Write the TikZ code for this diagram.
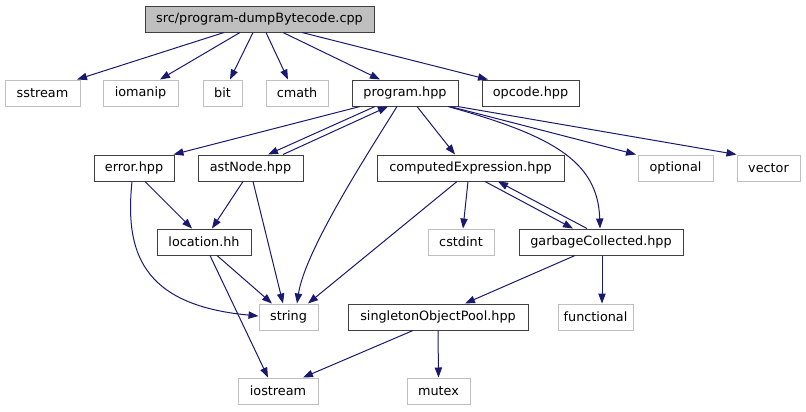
\documentclass[tikz,border=0pt]{standalone}
\usepackage{fontspec}
\setmainfont{DejaVu Sans}
\usetikzlibrary{arrows.meta,calc}
\definecolor{edgeblue}{HTML}{191970}
\definecolor{extgray}{HTML}{BFBFBF}
\definecolor{boxdark}{HTML}{404040}
\tikzset{
  base/.style={rectangle, inner sep=0pt, minimum height=19.5pt, font=\fontsize{9.6}{11}\selectfont, line width=0.75pt},
  intbox/.style={base, draw=boxdark, fill=white},
  extbox/.style={base, draw=extgray, fill=white},
  rootbox/.style={base, draw=boxdark, fill=extgray},
  edge/.style={draw=edgeblue, line width=0.75pt, -{Triangle[length=7.5pt,width=5.5pt]}},
}
\begin{document}
\begin{tikzpicture}[x=0.75pt,y=-0.75pt]
\useasboundingbox (0,0) rectangle (806,411);
% nodes
\node[rootbox, minimum width=171.75pt] (root) at (259.5,19) {src/program-dumpBytecode.cpp};
\node[extbox, minimum width=56.25pt] (sstream) at (42.5,93) {sstream};
\node[extbox, minimum width=56.25pt] (iomanip) at (140.5,93) {iomanip};
\node[extbox, minimum width=29.25pt] (bit) at (222.5,93) {bit};
\node[extbox, minimum width=46.5pt] (cmath) at (297,93) {cmath};
\node[intbox, minimum width=79.5pt] (program) at (405,93) {program.hpp};
\node[intbox, minimum width=72.75pt] (opcode) at (530.5,93) {opcode.hpp};
\node[intbox, minimum width=60pt] (error) at (134,168) {error.hpp};
\node[intbox, minimum width=78.75pt] (astNode) at (250.5,168) {astNode.hpp};
\node[intbox, minimum width=140.25pt] (ce) at (470.5,168) {computedExpression.hpp};
\node[extbox, minimum width=56.25pt] (optional) at (675.5,168) {optional};
\node[extbox, minimum width=47.25pt] (vector) at (768.5,168) {vector};
\node[intbox, minimum width=70.5pt] (location) at (204,242) {location.hh};
\node[extbox, minimum width=49.5pt] (cstdint) at (461,242) {cstdint};
\node[intbox, minimum width=123pt] (gc) at (601,242) {garbageCollected.hpp};
\node[extbox, minimum width=44.25pt] (string) at (288.5,317) {string};
\node[intbox, minimum width=135pt] (singleton) at (438,317) {singletonObjectPool.hpp};
\node[extbox, minimum width=56.25pt] (functional) at (595.5,317) {functional};
\node[extbox, minimum width=60pt] (iostream) at (278,391) {iostream};
\node[extbox, minimum width=47.25pt] (mutex) at (438.5,391) {mutex};
% root edges
\draw[edge] ($(root.south)+(-35.5,0)$) -- ($(sstream.north)+(34.5,0)$);
\draw[edge] ($(root.south)+(-19.5,0)$) -- ($(iomanip.north)+(19.5,0)$);
\draw[edge] ($(root.south)+(-6.5,0)$) -- ($(bit.north)+(7.5,0)$);
\draw[edge] ($(root.south)+(6.5,0)$) -- ($(cmath.north)+(-9,0)$);
\draw[edge] ($(root.south)+(23.5,0)$) -- ($(program.north)+(-25,0)$);
\draw[edge] ($(root.south)+(42.5,0)$) -- ($(opcode.north)+(-42.5,0)$);
% program edges
\draw[edge] ($(program.south)+(-45,0)$) -- ($(error.north east)+(-1,0)$);
\draw[edge] ($(program.south)+(-30,0)$) -- ($(astNode.north)+(17.5,0)$);
\draw[edge] ($(astNode.north)+(32.5,0)$) -- ($(program.south)+(-17,0)$);
\draw[edge] ($(program.south)+(-8,0)$) .. controls (370,150) and (305,250) .. ($(string.north)+(8.5,0)$);
\draw[edge] ($(program.south)+(12,0)$) -- ($(ce.north)+(-15.5,0)$);
\draw[edge] ($(program.south)+(43,0)$) .. controls (550,135) and (598,160) .. ($(gc.north)+(-1,0)$);
\draw[edge] ($(program.south)+(45,0)$) -- ($(optional.north)+(-39.5,0)$);
\draw[edge] ($(program.south east)+(-1,0)$) -- ($(vector.north)+(-32,0)$);
% error edges
\draw[edge] ($(error.south)+(11,0)$) -- ($(location.north)+(-12,0)$);
\draw[edge] ($(error.south)+(-2,0)$) .. controls (125,250) and (140,305) .. ($(string.west)+(0,-1)$);
% astNode edges
\draw[edge] ($(astNode.south)+(-7.5,0)$) -- ($(location.north)+(8,0)$);
\draw[edge] ($(astNode.south)+(2.5,0)$) -- ($(string.north)+(-5.5,0)$);
% location edges
\draw[edge] ($(location.south)+(13,0)$) -- ($(string.north)+(-16.5,0)$);
\draw[edge] ($(location.south)+(6,0)$) -- ($(iostream.north)+(-10,0)$);
% computedExpression edges
\draw[edge] ($(ce.south)+(-13.5,0)$) -- ($(string.north)+(19.5,0)$);
\draw[edge] ($(ce.south)+(-2.5,0)$) -- ($(cstdint.north)+(2,0)$);
\draw[edge] ($(ce.south)+(14.5,0)$) -- ($(gc.north)+(-28,0)$);
\draw[edge] ($(gc.north)+(-14,0)$) -- ($(ce.south)+(27.5,0)$);
% garbageCollected edges
\draw[edge] ($(gc.south)+(-26,0)$) -- ($(singleton.north)+(27,0)$);
\draw[edge] ($(gc.south)+(1,0)$) -- ($(functional.north)+(6.5,0)$);
% singleton edges
\draw[edge] ($(singleton.south)+(-25,0)$) -- ($(iostream.north)+(25,0)$);
\draw[edge] (singleton.south) -- (mutex.north);
\end{tikzpicture}
\end{document}
